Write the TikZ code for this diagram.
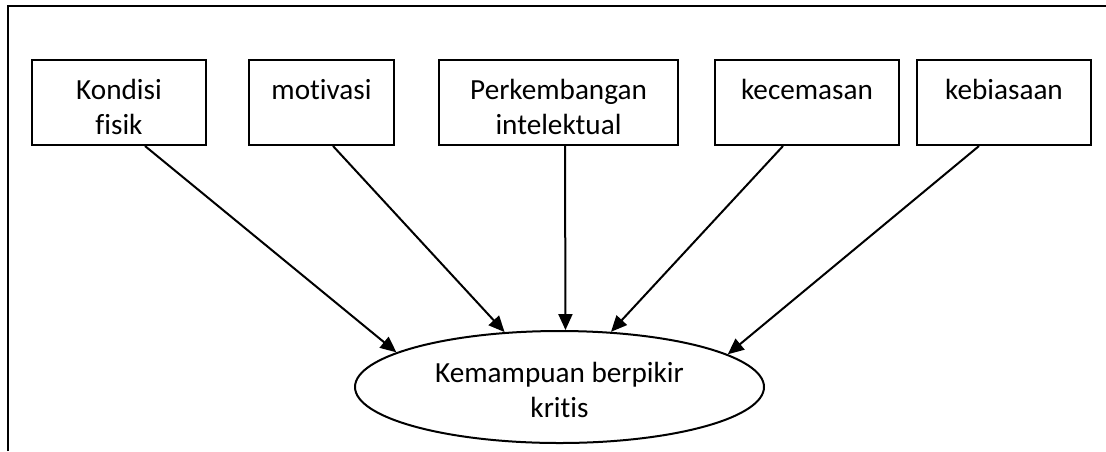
\documentclass[tikz,border=0pt]{standalone}
\usepackage{fontspec}
\setmainfont{Carlito}[Ligatures=NoCommon]
\usetikzlibrary{arrows.meta,shapes.geometric}

% box text: top aligned, centred
\newcommand{\isi}[2]{\parbox[c][42.5pt][t]{#1}{\centering\rule{0pt}{19.5pt}#2}}

\begin{document}
\begin{tikzpicture}[x=0.5pt,y=-0.5pt,line width=1pt,
    faktor/.style={draw,rectangle,inner sep=0pt},
    hasil/.style={draw,ellipse,inner sep=0pt,align=center,
      minimum width=204.5pt,minimum height=56pt},
    panah/.style={-{Triangle[length=8pt,width=7pt]}}]
  \fontsize{14.6}{17.5}\selectfont
  \useasboundingbox (0,0) rectangle (1106,451);
  \draw (8,451) -- (8,5.5) -- (1106,5.5);

  \node[faktor] (kondisi) at (119,102.5) {\isi{87pt}{Kondisi\\fisik}};
  \node[faktor] (motivasi) at (321.5,102.5) {\isi{72.5pt}{motivasi}};
  \node[faktor] (intelek) at (558.5,102.5)
    {\isi{119.5pt}{Perkembangan\\intelektual}};
  \node[faktor] (cemas) at (807,102.5) {\isi{92pt}{kecemasan}};
  \node[faktor] (biasa) at (1004,102.5) {\isi{87pt}{kebiasaan}};

  \node[hasil] (kemampuan) at (559.5,387)
    {\rule{0pt}{13pt}Kemampuan berpikir\\kritis};

  \draw[panah] ([xshift=13pt]kondisi.south) -- (kemampuan.168);
  \draw[panah] ([xshift=5.75pt]motivasi.south) -- (kemampuan.135);
  \draw[panah] ([xshift=3.25pt]intelek.south) -- (kemampuan.84);
  \draw[panah] ([xshift=-12pt]cemas.south) -- (kemampuan.47);
  \draw[panah] ([xshift=-12.5pt]biasa.south) -- (kemampuan.11);
\end{tikzpicture}
\end{document}
